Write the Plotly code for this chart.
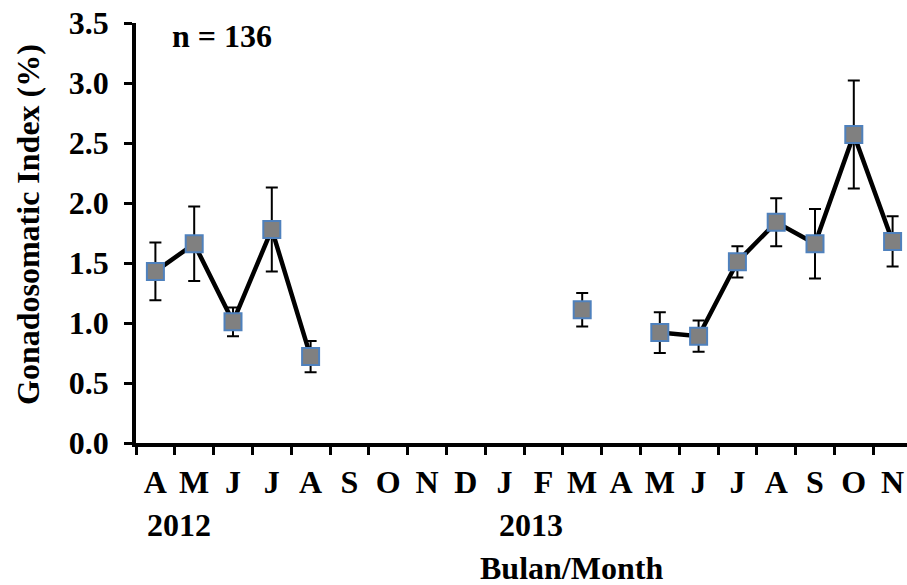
import plotly.graph_objects as go

# Monthly gonadosomatic index (mean ± error), April 2012 – November 2013
months = ["A", "M", "J", "J", "A", "S", "O", "N", "D", "J",
          "F", "M", "A", "M", "J", "J", "A", "S", "O", "N"]
gsi = [1.43, 1.66, 1.01, 1.78, 0.72, None, None, None, None, None,
       None, 1.11, None, 0.92, 0.89, 1.51, 1.84, 1.66, 2.57, 1.68]
gsi_err = [0.24, 0.31, 0.12, 0.35, 0.13, None, None, None, None, None,
           None, 0.14, None, 0.17, 0.13, 0.13, 0.20, 0.29, 0.45, 0.21]
y_ticks = [0.0, 0.5, 1.0, 1.5, 2.0, 2.5, 3.0, 3.5]

FONT = "Liberation Serif"
BLACK = "#000000"

x_idx = list(range(len(months)))
err_vals = [e if e is not None else 0 for e in gsi_err]

fig = go.Figure()
fig.add_trace(go.Scatter(
    x=x_idx,
    y=gsi,
    mode="lines+markers",
    connectgaps=False,
    line=dict(color=BLACK, width=4.5),
    marker=dict(symbol="square", size=17, color="#808080",
                line=dict(color="#4f81bd", width=2)),
    error_y=dict(type="data", array=err_vals, visible=True,
                 color=BLACK, thickness=2, width=6),
    showlegend=False,
    hoverinfo="skip",
))

L, T, B, W, H = 136, 23, 142, 907, 585
plot_w = W - L
cat_px = 38.8
x_max = -0.5 + plot_w / cat_px


def px_to_paper_x(px):
    return (px - L) / plot_w


def px_to_paper_y(py):
    return (H - B - py) / (H - T - B)


bold = dict(family=FONT, size=32, color=BLACK, weight="bold")

fig.update_layout(
    width=W, height=H,
    margin=dict(l=L, r=0, t=T, b=B, pad=0),
    paper_bgcolor="white", plot_bgcolor="white",
    xaxis=dict(
        range=[-0.5, x_max],
        tickmode="array", tickvals=x_idx, ticktext=months,
        ticks="", showgrid=False, zeroline=False,
        showline=True, linecolor=BLACK, linewidth=3.5,
        tickfont=bold, ticklabelstandoff=8,
        minor=dict(tickmode="array",
                   tickvals=[i - 0.5 for i in range(len(months) + 1)],
                   ticks="outside", ticklen=8, tickwidth=3,
                   tickcolor=BLACK, showgrid=False),
    ),
    yaxis=dict(
        range=[0, 3.5],
        tickmode="array", tickvals=y_ticks,
        ticktext=[f"{v:.1f}" for v in y_ticks],
        ticks="outside", ticklen=8, tickwidth=3, tickcolor=BLACK,
        showgrid=False, zeroline=False,
        showline=True, linecolor=BLACK, linewidth=3.5,
        tickfont=bold, ticklabelstandoff=9,
    ),
    annotations=[
        dict(text="n = 136", xref="paper", yref="paper",
             x=px_to_paper_x(222), y=px_to_paper_y(36),
             xanchor="center", yanchor="middle", showarrow=False,
             font=bold),
        dict(text="2012", xref="paper", yref="paper",
             x=px_to_paper_x(179), y=px_to_paper_y(525),
             xanchor="center", yanchor="middle", showarrow=False,
             font=bold),
        dict(text="2013", xref="paper", yref="paper",
             x=px_to_paper_x(531), y=px_to_paper_y(525),
             xanchor="center", yanchor="middle", showarrow=False,
             font=bold),
        dict(text="Bulan/Month", xref="paper", yref="paper",
             x=px_to_paper_x(571), y=px_to_paper_y(568),
             xanchor="center", yanchor="middle", showarrow=False,
             font=bold),
        dict(text="Gonadosomatic Index (%)", xref="paper", yref="paper",
             x=px_to_paper_x(28), y=px_to_paper_y(225),
             xanchor="center", yanchor="middle", showarrow=False,
             textangle=-90, font=bold),
    ],
)

fig.write_html("out.html")
